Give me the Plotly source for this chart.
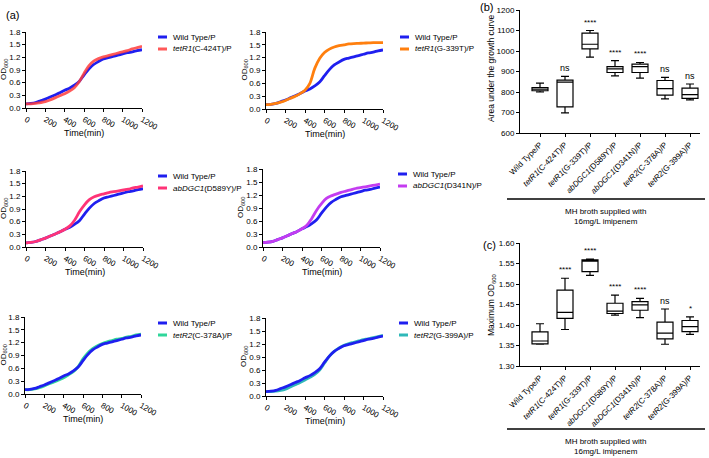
import plotly.graph_objects as go

W, H = 709, 458

# ---------------- data ----------------
time_min = [0, 50, 100, 150, 200, 250, 300, 350, 400, 450, 500, 550, 600,
            650, 700, 750, 800, 850, 900, 950, 1000, 1050, 1100, 1150, 1200]

od_wt = [0.10, 0.11, 0.13, 0.17, 0.21, 0.26, 0.31, 0.36, 0.42, 0.47, 0.54, 0.63, 0.78,
         0.92, 1.03, 1.10, 1.16, 1.19, 1.22, 1.25, 1.28, 1.31, 1.33, 1.36, 1.38]
od_c424t = [0.10, 0.10, 0.11, 0.13, 0.15, 0.19, 0.24, 0.29, 0.34, 0.40, 0.48, 0.62, 0.82,
            1.00, 1.11, 1.17, 1.21, 1.24, 1.27, 1.30, 1.33, 1.36, 1.40, 1.43, 1.46]
od_g339t = [0.10, 0.11, 0.13, 0.16, 0.20, 0.25, 0.30, 0.36, 0.44, 0.60, 0.95, 1.18, 1.32,
            1.40, 1.45, 1.48, 1.50, 1.52, 1.53, 1.535, 1.54, 1.545, 1.55, 1.55, 1.55]
od_d589y = [0.10, 0.11, 0.13, 0.17, 0.21, 0.26, 0.31, 0.36, 0.42, 0.50, 0.64, 0.84, 1.00,
            1.12, 1.19, 1.23, 1.26, 1.29, 1.31, 1.33, 1.35, 1.37, 1.40, 1.42, 1.45]
od_d341n = [0.10, 0.11, 0.13, 0.17, 0.21, 0.26, 0.31, 0.36, 0.42, 0.50, 0.66, 0.85, 1.00,
            1.12, 1.18, 1.22, 1.26, 1.29, 1.32, 1.35, 1.37, 1.39, 1.41, 1.43, 1.45]
od_c378a = [0.10, 0.10, 0.12, 0.15, 0.19, 0.24, 0.28, 0.33, 0.38, 0.45, 0.52, 0.64, 0.82,
            0.96, 1.06, 1.13, 1.18, 1.22, 1.25, 1.28, 1.30, 1.33, 1.35, 1.38, 1.40]
od_g399a = [0.10, 0.10, 0.11, 0.13, 0.16, 0.21, 0.26, 0.31, 0.37, 0.43, 0.50, 0.60, 0.76,
            0.92, 1.03, 1.11, 1.17, 1.21, 1.24, 1.27, 1.30, 1.32, 1.35, 1.37, 1.40]

strain_labels = ["Wild Type/P", "<i>tetR1</i>(C-424T)/P", "<i>tetR1</i>(G-339T)/P",
                 "<i>abDGC1</i>(D589Y)/P", "<i>abDGC1</i>(D341N)/P",
                 "<i>tetR2</i>(C-378A)/P", "<i>tetR2</i>(G-399A)/P"]

# area under growth curve box stats
auc_low = [800, 698, 970, 879, 868, 766, 762]
auc_q1 = [806, 727, 1010, 895, 895, 785, 769]
auc_med = [814, 848, 1033, 913, 924, 816, 787]
auc_q3 = [822, 858, 1087, 924, 936, 856, 819]
auc_high = [843, 876, 1100, 953, 944, 871, 839]
auc_sig = ["", "ns", "****", "****", "****", "ns", "ns"]

# maximum OD600 box stats
max_low = [1.353, 1.389, 1.521, 1.424, 1.418, 1.353, 1.377]
max_q1 = [1.354, 1.416, 1.530, 1.428, 1.436, 1.366, 1.384]
max_med = [1.361, 1.431, 1.556, 1.434, 1.449, 1.380, 1.396]
max_q3 = [1.383, 1.485, 1.559, 1.453, 1.457, 1.407, 1.411]
max_high = [1.403, 1.514, 1.561, 1.473, 1.465, 1.439, 1.420]
max_sig = ["", "****", "****", "****", "****", "ns", "*"]

FONT = "Liberation Sans, Arial, sans-serif"
WT_COLOR = "#1f1fef"


def px(x):
    return x / W


def py(y):
    return 1 - y / H


# growth panels: (x0, x1, ytop, ybottom), mutant data, colour, label, legend pos,
# wt on top, time-title y, od-title x
panels = [
    ((26, 142, 32, 108), od_c424t, "rgba(255,60,60,0.85)", strain_labels[1], (158, 37), False, 133, 4),
    ((266, 383, 32, 109), od_g339t, "#ff7f0e", strain_labels[2], (400, 37), False, 134, 244),
    ((26, 143, 171, 247), od_d589y, "#ff3377", strain_labels[3], (158, 176), False, 272, 4),
    ((263, 380, 169, 247), od_d341n, "#c43cf0", strain_labels[4], (398, 174), False, 272, 241),
    ((25, 141, 317, 394), od_c378a, "#2fd69a", strain_labels[5], (158, 323), True, 419, 3),
    ((266, 383, 318, 396), od_g399a, "#2fb8b8", strain_labels[6], (399, 323), True, 421, 244),
]

fig = go.Figure()
layout = dict(width=W, height=H, margin=dict(l=0, r=0, t=0, b=0, autoexpand=False),
              paper_bgcolor="white", plot_bgcolor="white", showlegend=False,
              font=dict(family=FONT, size=8, color="black"))
shapes = []
annotations = []

axis_common = dict(showline=True, linecolor="black", linewidth=1, ticks="outside",
                   ticklen=3, tickwidth=1, tickcolor="black", showgrid=False,
                   zeroline=False, automargin=False,
                   tickfont=dict(size=8, family=FONT, color="black"))


def label(text, x, y, size=9, angle=0, xanchor="center"):
    annotations.append(dict(xref="paper", yref="paper", x=px(x), y=py(y), text=text,
                            showarrow=False, xanchor=xanchor, yanchor="middle",
                            textangle=angle, font=dict(size=size, family=FONT, color="black")))


for i, (box, mut, color, lab, (lx, ly), wt_top, ty, ox) in enumerate(panels, start=1):
    x0, x1, yt, yb = box
    xa = "x" if i == 1 else f"x{i}"
    ya = "y" if i == 1 else f"y{i}"
    wt_trace = go.Scatter(x=time_min, y=od_wt, mode="lines", xaxis=xa, yaxis=ya,
                          line=dict(color=WT_COLOR, width=2.8, shape="spline"))
    mut_trace = go.Scatter(x=time_min, y=mut, mode="lines", xaxis=xa, yaxis=ya,
                           line=dict(color=color, width=2.8, shape="spline"))
    if wt_top:
        fig.add_trace(mut_trace)
        fig.add_trace(wt_trace)
    else:
        fig.add_trace(wt_trace)
        fig.add_trace(mut_trace)
    key = "" if i == 1 else str(i)
    layout["xaxis" + key] = dict(axis_common, domain=[px(x0), px(x1)], range=[0, 1200],
                                 tickvals=[0, 200, 400, 600, 800, 1000, 1200], anchor=ya)
    layout["yaxis" + key] = dict(axis_common, domain=[py(yb), py(yt)], range=[0, 1.8],
                                 tickvals=[0, 0.3, 0.6, 0.9, 1.2, 1.5, 1.8],
                                 tickformat=".1f", anchor=xa)
    label("Time(min)", (x0 + x1) / 2, ty, size=9)
    label("OD<sub>600</sub>", ox, (yt + yb) / 2, size=8, angle=-90)
    # manual legend
    for j, (c, t) in enumerate([(WT_COLOR, strain_labels[0]), (color, lab)]):
        yy = ly + j * 12
        shapes.append(dict(type="line", xref="paper", yref="paper",
                           x0=px(lx), x1=px(lx + 9), y0=py(yy), y1=py(yy),
                           line=dict(color=c, width=3)))
        label(t, lx + 13, yy, size=8, xanchor="left")

# ---------------- box panels ----------------
box_pos = list(range(7))
box_defs = [
    (7, (520, 700, 10, 133), auc_low, auc_q1, auc_med, auc_q3, auc_high, auc_sig,
     [600, 1200], [600, 700, 800, 900, 1000, 1100, 1200], None,
     "Area under the growth curve", 199, 68),
    (8, (520, 700, 243, 366), max_low, max_q1, max_med, max_q3, max_high, max_sig,
     [1.30, 1.60], [1.30, 1.35, 1.40, 1.45, 1.50, 1.55, 1.60], ".2f",
     "Maximum OD<sub>600</sub>", 429, 305),
]
for (k, (x0, x1, yt, yb), lo, q1, med, q3, hi, sig, yr, yticks, fmt, ytitle, gline, tyc) in box_defs:
    fig.add_trace(go.Box(x=box_pos, lowerfence=lo, q1=q1, median=med, q3=q3, upperfence=hi,
                         xaxis=f"x{k}", yaxis=f"y{k}", fillcolor="white",
                         line=dict(color="black", width=1.2), whiskerwidth=0.5,
                         width=0.64, boxpoints=False, hoverinfo="skip"))
    layout[f"xaxis{k}"] = dict(axis_common, domain=[px(x0), px(x1)], range=[-0.8, 6.4],
                               tickvals=box_pos, ticktext=strain_labels, tickangle=-45,
                               anchor=f"y{k}", tickfont=dict(size=8, family=FONT))
    ydict = dict(axis_common, domain=[py(yb), py(yt)], range=yr, tickvals=yticks,
                 anchor=f"x{k}")
    if fmt:
        ydict["tickformat"] = fmt
    layout[f"yaxis{k}"] = ydict
    label(ytitle, 491, tyc, size=8.5, angle=-90)
    for i, s in enumerate(sig):
        if s:
            annotations.append(dict(xref=f"x{k}", yref=f"y{k}", x=box_pos[i], y=hi[i],
                                    text=s, showarrow=False, yanchor="bottom",
                                    yshift=2 if s != "ns" else 1,
                                    font=dict(size=8 if s != "ns" else 9, family=FONT)))
    shapes.append(dict(type="line", xref="paper", yref="paper", x0=px(507), x1=px(705),
                       y0=py(gline), y1=py(gline), line=dict(color="black", width=1.3)))
    label("MH broth supplied with<br>16mg/L imipenem", 605, gline + 17, size=8)

# panel letters
label("(a)", 12, 15, size=11)
label("(b)", 486, 7, size=11)
label("(c)", 489, 245, size=11)

layout["shapes"] = shapes
layout["annotations"] = annotations
fig.update_layout(**layout)
fig.write_html("out.html", config={"displayModeBar": False, "staticPlot": True},
               post_script="document.body.style.margin='0';document.body.style.overflow='hidden';")
